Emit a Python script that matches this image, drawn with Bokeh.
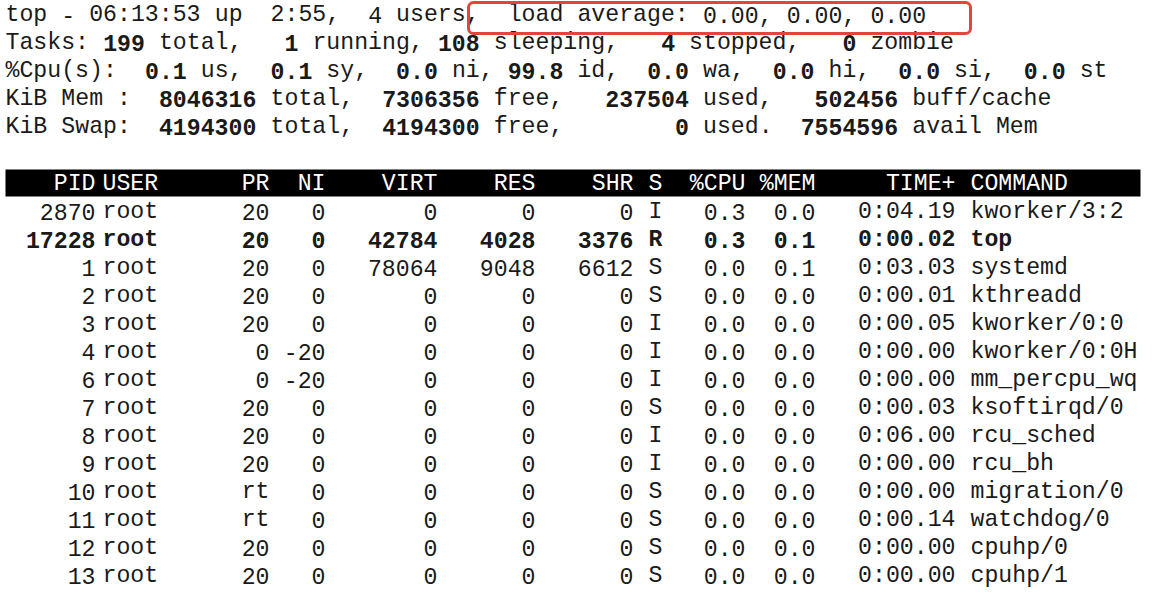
import re
from bokeh.plotting import figure
from bokeh.models import ColumnDataSource
from bokeh.core.properties import value
from bokeh.embed import file_html
from bokeh.resources import INLINE

FONT = value("Liberation Mono")
CW = 13.95  # character advance in px
INK = "#1a1a1a"

summary = [
    "top - 06:13:53 up  2:55,  4 users,  load average: 0.00, 0.00, 0.00",
    "Tasks: 199 total,   1 running, 108 sleeping,   4 stopped,   0 zombie",
    "%Cpu(s):  0.1 us,  0.1 sy,  0.0 ni, 99.8 id,  0.0 wa,  0.0 hi,  0.0 si,  0.0 st",
    "KiB Mem :  8046316 total,  7306356 free,   237504 used,   502456 buff/cache",
    "KiB Swap:  4194300 total,  4194300 free,        0 used.  7554596 avail Mem",
]

headers = ["PID", "USER", "PR", "NI", "VIRT", "RES", "SHR", "S", "%CPU", "%MEM", "TIME+", "COMMAND"]
col_x = [95, 102, 269, 325, 437, 535, 633, 648, 745, 815, 955, 970]
col_align = ["right", "left", "right", "right", "right", "right", "right", "left",
             "right", "right", "right", "left"]

pid = ["2870", "17228", "1", "2", "3", "4", "6", "7", "8", "9", "10", "11", "12", "13"]
user = ["root"] * 14
pr = ["20", "20", "20", "20", "20", "0", "0", "20", "20", "20", "rt", "rt", "20", "20"]
ni = ["0", "0", "0", "0", "0", "-20", "-20", "0", "0", "0", "0", "0", "0", "0"]
virt = ["0", "42784", "78064", "0", "0", "0", "0", "0", "0", "0", "0", "0", "0", "0"]
res = ["0", "4028", "9048", "0", "0", "0", "0", "0", "0", "0", "0", "0", "0", "0"]
shr = ["0", "3376", "6612", "0", "0", "0", "0", "0", "0", "0", "0", "0", "0", "0"]
state = ["I", "R", "S", "S", "I", "I", "I", "S", "I", "I", "S", "S", "S", "S"]
cpu = ["0.3", "0.3", "0.0", "0.0", "0.0", "0.0", "0.0", "0.0", "0.0", "0.0", "0.0", "0.0", "0.0", "0.0"]
mem = ["0.0", "0.1", "0.1", "0.0", "0.0", "0.0", "0.0", "0.0", "0.0", "0.0", "0.0", "0.0", "0.0", "0.0"]
time_ = ["0:04.19", "0:00.02", "0:03.03", "0:00.01", "0:00.05", "0:00.00", "0:00.00",
         "0:00.03", "0:06.00", "0:00.00", "0:00.00", "0:00.14", "0:00.00", "0:00.00"]
command = ["kworker/3:2", "top", "systemd", "kthreadd", "kworker/0:0", "kworker/0:0H",
           "mm_percpu_wq", "ksoftirqd/0", "rcu_sched", "rcu_bh", "migration/0",
           "watchdog/0", "cpuhp/0", "cpuhp/1"]
bold_rows = [1]

p = figure(width=1148, height=590, x_range=(0, 1148), y_range=(590, 0),
           output_backend="svg", toolbar_location=None)
p.axis.visible = False
p.grid.visible = False
p.outline_line_color = None
p.min_border = 0
p.background_fill_color = "white"

# summary lines: each non-space token placed at its character column; numbers bold from line 2 on
segs = {"normal": dict(x=[], y=[], t=[]), "bold": dict(x=[], y=[], t=[])}
for i, line in enumerate(summary):
    y = 14 + 28 * i
    for m in re.finditer(r"\S+", line):
        tok = m.group()
        kind = "bold" if (i > 0 and re.fullmatch(r"\d+(?:\.\d+)?", tok)) else "normal"
        segs[kind]["x"].append(5 + m.start() * CW)
        segs[kind]["y"].append(y)
        segs[kind]["t"].append(tok)
for kind, d in segs.items():
    p.text(x="x", y="y", text="t", source=ColumnDataSource(d), text_font=FONT,
           text_font_size="23.2px", text_font_style=kind, text_color=INK,
           text_baseline="middle")

# red highlight box around load average
p.quad(left=[468], right=[970], top=[2], bottom=[33], fill_color=None,
       line_color="#e5443a", line_width=3, border_radius=5)

# table header bar
p.quad(left=[5], right=[1140], top=[169], bottom=[196], fill_color="black", line_color=None)
for h, x, a in zip(headers, col_x, col_align):
    p.text(x=[x], y=[183], text=[h], text_font=FONT, text_font_size="23.2px",
           text_color="white", text_align=a, text_baseline="middle")

cols = [pid, user, pr, ni, virt, res, shr, state, cpu, mem, time_, command]
for c, x, a in zip(cols, col_x, col_align):
    for r, v in enumerate(c):
        p.text(x=[x], y=[211 + 28 * r], text=[v], text_font=FONT, text_font_size="23.2px",
               text_color=INK, text_align=a, text_baseline="middle",
               text_font_style="bold" if r in bold_rows else "normal")

open("out.html", "w").write(file_html(p, INLINE))
